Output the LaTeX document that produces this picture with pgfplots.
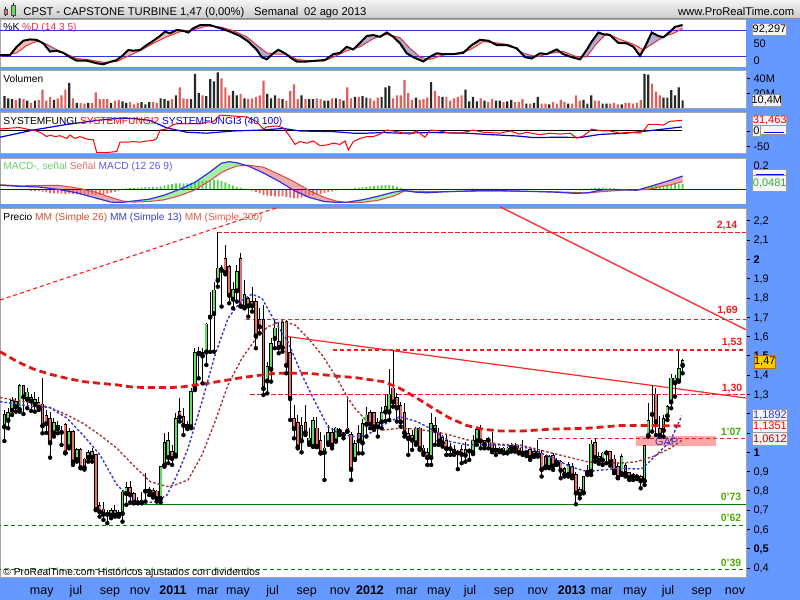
\documentclass[border=0pt]{standalone}
\usepackage{pgfplots}
\pgfplotsset{compat=1.18}
\usepackage{pgfplotstable}
\usepgfplotslibrary{fillbetween}
\usepackage{fontspec}
\setmainfont{Liberation Sans}

\definecolor{prtblue}{RGB}{102,153,255}
\definecolor{cgreen}{RGB}{95,222,95}
\definecolor{cred}{RGB}{232,112,112}
\definecolor{vred}{RGB}{224,96,96}
\definecolor{vblack}{RGB}{40,40,40}
\definecolor{ma200}{RGB}{220,25,25}
\definecolor{ma26}{RGB}{165,55,55}
\definecolor{ma13}{RGB}{55,55,205}
\definecolor{lvlred}{RGB}{240,30,30}
\definecolor{lvlgreen}{RGB}{0,128,0}
\definecolor{lblgreen}{RGB}{80,170,0}
\definecolor{stochK}{RGB}{172,172,212}
\definecolor{stochD}{RGB}{242,188,188}
\definecolor{stochred}{RGB}{230,50,50}
\definecolor{macdgreen}{RGB}{165,238,165}
\definecolor{macdpink}{RGB}{240,172,172}
\definecolor{histgreen}{RGB}{80,210,80}
\definecolor{histred}{RGB}{230,100,100}
\definecolor{macdblue}{RGB}{50,50,220}
\definecolor{macdred}{RGB}{225,70,70}
\definecolor{boxfill}{RGB}{245,245,245}
\definecolor{gold}{RGB}{255,204,0}

% weekly candles: index, open, high, low, close, volume (M), MACD histogram
\pgfplotstableread{
i o h l c v m
0 1.133 1.219 1.058 1.193 16 -0.004
1 1.167 1.228 1.124 1.202 13 -0.006
2 1.219 1.288 1.193 1.267 12 -0.008
3 1.262 1.283 1.210 1.237 11 -0.006
4 1.223 1.354 1.210 1.344 13 -0.004
5 1.344 1.349 1.198 1.288 12 -0.006
6 1.276 1.331 1.228 1.310 10 -0.010
7 1.283 1.300 1.214 1.267 7 -0.014
8 1.250 1.314 1.210 1.271 10 -0.016
9 1.254 1.288 1.219 1.233 11 -0.015
10 1.248 1.383 1.098 1.138 25 -0.020
11 1.190 1.220 1.100 1.150 10 -0.026
12 1.172 1.210 0.972 1.050 15 -0.032
13 1.102 1.176 1.081 1.150 11 -0.035
14 1.136 1.162 1.098 1.124 13 -0.035
15 1.107 1.138 1.038 1.105 17 -0.036
16 1.141 1.150 0.994 0.999 25 -0.040
17 1.029 1.124 1.020 1.107 34 -0.038
18 1.107 1.115 0.934 0.951 13 -0.042
19 0.963 1.020 0.951 1.012 7 -0.044
20 1.012 1.020 0.917 0.922 7 -0.046
21 0.963 0.970 0.910 0.922 6 -0.048
22 0.974 1.012 0.951 0.998 7 -0.046
23 1.003 1.020 0.951 0.974 7 -0.044
24 0.986 0.990 0.700 0.704 21 -0.050
25 0.721 0.744 0.666 0.692 12 -0.048
26 0.704 0.744 0.649 0.680 12 -0.044
27 0.683 0.700 0.632 0.680 12 -0.036
28 0.675 0.709 0.658 0.697 7 -0.028
29 0.697 0.727 0.666 0.675 10 -0.020
30 0.684 0.700 0.666 0.675 11 -0.012
31 0.684 0.804 0.640 0.792 9 0.004
32 0.787 0.848 0.727 0.813 7 0.008
33 0.813 0.853 0.740 0.782 8 0.010
34 0.782 0.796 0.735 0.740 5 0.012
35 0.742 0.770 0.735 0.740 7 0.014
36 0.742 0.796 0.735 0.745 8 0.016
37 0.800 0.891 0.744 0.800 5 0.018
38 0.800 0.822 0.778 0.806 8 0.020
39 0.800 0.813 0.765 0.782 8 0.020
40 0.797 0.804 0.744 0.761 7 0.020
41 0.761 0.925 0.740 0.922 13 0.026
42 0.934 1.098 0.925 1.050 12 0.034
43 0.974 1.107 0.943 1.060 10 0.040
44 1.000 1.038 0.934 0.969 12 0.044
45 0.986 1.202 0.977 1.172 17 0.050
46 1.210 1.283 1.159 1.184 28 0.052
47 1.184 1.231 1.089 1.141 13 0.050
48 1.140 1.160 1.120 1.136 12 0.050
49 1.133 1.331 1.124 1.311 12 0.056
50 1.331 1.539 1.322 1.513 46 0.066
51 1.513 1.547 1.383 1.520 20 0.070
52 1.513 1.539 1.357 1.501 17 0.072
53 1.521 1.668 1.452 1.663 16 0.076
54 1.702 1.830 1.520 1.705 39 0.078
55 1.720 1.881 1.521 1.839 36 0.080
56 1.893 2.140 1.858 1.953 48 0.080
57 1.957 1.970 1.755 1.945 40 0.072
58 2.002 2.074 1.922 1.933 28 0.060
59 1.962 1.970 1.772 1.815 17 0.044
60 1.795 1.884 1.746 1.841 23 0.032
61 1.838 1.970 1.781 1.933 17 0.022
62 2.002 2.031 1.755 1.760 19 0.014
63 1.751 1.893 1.746 1.815 13 0.006
64 1.795 1.807 1.703 1.760 12 -0.004
65 1.781 1.858 1.729 1.760 13 -0.012
66 1.781 1.798 1.539 1.604 15 -0.024
67 1.686 1.746 1.617 1.651 17 -0.034
68 1.686 1.763 1.297 1.331 37 -0.048
69 1.371 1.470 1.305 1.444 19 -0.054
70 1.432 1.591 1.366 1.560 13 -0.058
71 1.591 1.686 1.539 1.642 17 -0.060
72 1.570 1.677 1.513 1.544 13 -0.062
73 1.544 1.686 1.521 1.672 12 -0.060
74 1.677 1.686 1.409 1.452 10 -0.064
75 1.513 1.599 1.167 1.280 23 -0.072
76 1.172 1.245 1.072 1.124 32 -0.078
77 1.150 1.193 1.020 1.029 12 -0.078
78 1.060 1.184 0.999 1.136 17 -0.072
79 1.150 1.245 1.089 1.103 12 -0.066
80 1.050 1.124 1.038 1.072 12 -0.060
81 1.032 1.184 1.029 1.162 12 -0.052
82 1.124 1.184 1.026 1.032 13 -0.046
83 1.060 1.107 0.994 0.998 12 -0.040
84 1.000 1.089 0.856 1.020 10 -0.032
85 1.050 1.141 1.038 1.102 10 -0.024
86 1.102 1.124 1.020 1.038 13 -0.018
87 1.060 1.133 1.055 1.124 13 -0.010
88 1.114 1.124 1.089 1.110 12 -0.004
89 1.093 1.105 1.072 1.096 10 0.004
90 1.124 1.288 1.107 1.110 28 0.006
91 1.089 1.107 0.856 0.912 13 0.004
92 0.965 1.064 0.960 1.043 15 0.010
93 1.093 1.141 0.994 1.060 15 0.014
94 1.050 1.172 0.994 1.148 16 0.018
95 1.146 1.236 1.081 1.191 14 0.022
96 1.202 1.219 1.124 1.146 13 0.026
97 1.202 1.210 1.115 1.133 10 0.030
98 1.150 1.176 1.081 1.133 14 0.032
99 1.159 1.236 1.124 1.202 15 0.034
100 1.210 1.297 1.162 1.233 28 0.036
101 1.210 1.432 1.167 1.300 30 0.036
102 1.331 1.530 1.236 1.262 13 0.032
103 1.280 1.305 1.159 1.231 17 0.024
104 1.242 1.259 1.133 1.159 17 0.014
105 1.202 1.254 1.081 1.103 38 0.004
106 1.095 1.124 0.986 1.072 20 -0.004
107 1.086 1.115 1.012 1.064 11 -0.008
108 1.050 1.133 1.038 1.124 14 -0.008
109 1.124 1.133 1.012 1.020 11 -0.010
110 1.020 1.038 0.986 0.998 12 -0.012
111 0.998 1.020 0.934 0.974 14 -0.008
112 0.974 1.202 0.934 1.146 35 -0.002
113 1.138 1.184 1.038 1.115 23 0.002
114 1.103 1.124 1.038 1.060 16 0.000
115 1.050 1.089 1.029 1.075 15 -0.002
116 1.060 1.089 0.986 1.020 15 -0.004
117 1.022 1.046 0.986 1.020 10 -0.004
118 1.012 1.038 0.986 0.998 13 -0.002
119 1.000 1.012 0.912 0.998 15 -0.002
120 1.012 1.038 0.943 0.991 17 0.000
121 0.986 1.055 0.951 1.012 25 0.004
122 1.008 1.012 0.960 1.008 9 0.006
123 1.000 1.089 0.990 1.060 15 0.006
124 1.060 1.133 1.038 1.115 9 0.006
125 1.124 1.141 1.020 1.060 13 0.006
126 1.041 1.064 1.020 1.060 10 0.006
127 1.072 1.081 1.020 1.064 8 0.006
128 1.046 1.107 1.000 1.012 12 0.006
129 1.012 1.038 0.986 1.020 10 0.004
130 1.008 1.029 1.000 1.020 10 0.000
131 1.020 1.025 0.994 1.000 8 -0.002
132 1.000 1.025 0.994 1.020 9 -0.002
133 1.020 1.046 1.003 1.034 11 0.000
134 1.029 1.046 1.003 1.025 8 0.002
135 1.020 1.038 0.994 1.000 8 0.000
136 1.000 1.064 0.986 0.998 12 0.000
137 1.000 1.012 0.980 1.000 6 0.004
138 1.012 1.020 0.960 0.974 6 0.004
139 0.986 1.015 0.975 1.003 7 0.002
140 0.986 1.064 0.977 1.003 15 0.000
141 0.994 1.012 0.874 0.912 6 -0.002
142 0.977 0.986 0.917 0.925 6 -0.004
143 0.922 0.986 0.917 0.974 5 -0.004
144 0.982 0.994 0.908 0.930 8 -0.002
145 0.955 0.969 0.934 0.943 6 -0.002
146 0.951 0.960 0.865 0.908 11 -0.004
147 0.913 0.925 0.874 0.887 8 -0.004
148 0.887 0.951 0.874 0.934 6 -0.002
149 0.922 0.943 0.865 0.879 6 -0.004
150 0.882 0.899 0.730 0.790 17 -0.008
151 0.804 0.822 0.761 0.784 10 -0.010
152 0.792 0.879 0.787 0.870 11 -0.006
153 0.896 0.934 0.882 0.903 6 0.002
154 0.903 1.064 0.882 1.041 17 0.008
155 1.050 1.072 0.951 0.974 10 0.012
156 0.974 1.000 0.940 0.960 10 0.014
157 0.961 1.000 0.934 0.994 6 0.014
158 0.998 1.012 0.943 1.000 6 0.012
159 1.000 1.003 0.930 0.951 6 0.010
160 0.963 0.986 0.891 0.903 7 0.008
161 0.922 0.951 0.865 0.870 5 0.006
162 0.891 0.990 0.882 0.974 5 0.004
163 0.930 0.943 0.874 0.891 7 0.002
164 0.894 0.899 0.856 0.870 7 0.000
165 0.878 0.891 0.856 0.877 6 -0.002
166 0.875 0.885 0.860 0.874 7 -0.002
167 0.873 0.882 0.813 0.853 11 0.000
168 0.853 1.038 0.830 1.032 46 0.012
169 1.089 1.254 1.081 1.162 45 0.022
170 1.200 1.348 1.107 1.198 33 0.028
171 1.300 1.331 1.089 1.159 22 0.030
172 1.120 1.190 1.080 1.090 17 0.032
173 1.115 1.193 1.081 1.172 14 0.034
174 1.190 1.245 1.167 1.236 14 0.038
175 1.262 1.404 1.228 1.383 24 0.042
176 1.361 1.401 1.288 1.383 17 0.044
177 1.371 1.525 1.366 1.430 28 0.046
178 1.452 1.484 1.409 1.473 10.4 0.048
}\weekly

\pgfplotstableread{
i k
-1.15 23
1.47 23
3.23 42
4.96 56
6.72 59
8.48 58
10.21 50
11.97 31
13.73 33
15.46 28
17.22 18
18.98 10
21.6 10
24.23 4
25.96 1.6
27.72 7
29.48 11.5
31.2 23
32.5 34.6
33.83 33
35.59 34.6
37.35 46
39.08 56
40.84 67
42.15 77
43.46 73
45.22 81
46.96 79
48.27 75
49.58 85
51.34 92
53.96 92
56.59 85
59.21 77
61.84 67
64.02 54
66.23 35
67.54 18
68.85 13
70.58 27
71.89 35
73.65 27
75.41 15
76.72 8
79.34 8
81.97 10
84.15 11.5
86.33 25
88.08 28
89.84 42
91.57 36
93.33 51
95.09 67
96.82 69
98.58 65
100.34 75
102.07 65
103.83 50
105.59 27
107.32 18
109.95 8
111.71 19
113.47 27
115.2 25
117.82 25
120.45 28
122.65 46
124.83 58
127.01 56
129.21 46
131.84 46
134.46 38.5
136.64 18
138.4 15
140.58 27
142.34 25
144.96 36
146.69 25
148.9 18
151.08 13
152.83 35
154.15 54
155.88 75
157.19 71
158.95 69
161.13 51
163.33 50
165.07 42
166.82 21
168.14 42
169.9 75
171.63 67
172.94 64
174.7 77
176.01 88
178 92.3
}\stochK

\pgfplotstableread{
i d
-1.15 20
3.23 28
5.85 45
8.48 55
11.1 48
13.73 35
16.35 25
18.98 15
22.47 11.5
25.96 6
29.48 8
32.1 19
35.59 33
39.08 50
42.6 65
46.09 77
49.58 81
53.1 90
56.59 88
60.08 79
63.6 65
66.23 46
68.85 28
71.47 25
74.1 25
76.72 13
80.21 9
83.7 9
86.33 18
89.84 33
93.33 42
96.82 61
100.34 71
103.83 63
106.46 38.5
109.08 18
111.71 13
115.2 23
118.72 27
122.2 35
125.7 54
129.21 51
132.7 46
136.19 27
139.7 19
143.2 27
146.69 31
150.2 19
152.83 19
155.46 50
158.08 73
161.57 59
165.07 48
167.69 35
170.31 50
172.94 65
175.56 73
178 84
}\stochD

\pgfplotstableread{
i v
-1.15 0.035
4 0.025
9 0.020
14 0.000
19 -0.030
24 -0.075
28 -0.110
31 -0.112
34 -0.100
38 -0.085
42 -0.050
46 0.000
50 0.060
54 0.150
57 0.225
59 0.237
61 0.228
64 0.200
68 0.140
72 0.070
76 -0.010
80 -0.070
84 -0.105
87 -0.112
90 -0.110
94 -0.090
98 -0.060
102 -0.025
105 -0.010
108 -0.025
111 -0.030
115 -0.022
120 -0.016
125 -0.010
130 -0.012
135 -0.015
140 -0.020
145 -0.025
150 -0.035
153 -0.030
157 -0.005
162 -0.003
166 -0.008
169 0.020
172 0.050
175 0.080
178 0.114
}\macdline

\pgfplotstableread{
i v
-1.15 0.040
4 0.030
9 0.032
14 0.035
19 0.012
24 -0.025
28 -0.070
31 -0.100
34 -0.110
38 -0.105
42 -0.090
46 -0.055
50 -0.005
54 0.075
57 0.145
59 0.175
61 0.200
64 0.208
68 0.190
72 0.130
76 0.065
80 -0.010
84 -0.070
87 -0.100
90 -0.115
94 -0.112
98 -0.095
102 -0.060
105 -0.015
108 -0.017
111 -0.020
115 -0.020
120 -0.018
125 -0.016
130 -0.014
135 -0.017
140 -0.018
145 -0.022
150 -0.027
153 -0.032
157 -0.020
162 -0.008
166 -0.006
169 0.000
172 0.020
175 0.040
178 0.066
}\signalline

\pgfplotsset{
  panel/.style={
    scale only axis, width=746bp, xmin=-1.155, xmax=194.64,
    anchor=south west,
    clip bounding box=upper bound,
    axis line style={draw=black!35, line width=0.8bp},
    xtick=\empty,
    ytick pos=right, yticklabel pos=right,
    ytick align=outside,
    major tick length=4bp,
    tick style={black, line width=0.7bp},
    yticklabel style={font=\fontsize{11bp}{12bp}\selectfont, anchor=base west, yshift=-3.9bp},
  },
  cbar/.style={only marks, mark=none},
}

\begin{document}
\begin{tikzpicture}[x=1bp,y=1bp]
% blue frame only around the panels (panels stay on the white page)
\fill[prtblue] (746,0) rectangle (800,582);
\fill[prtblue] (0,0) rectangle (746,23);
\fill[prtblue] (0,392) rectangle (746,396);
\fill[prtblue] (0,442) rectangle (746,447);
\fill[prtblue] (0,488) rectangle (746,492);
\fill[prtblue] (0,530) rectangle (746,533);
\fill[prtblue] (0,581) rectangle (746,582);
\shade[top color=black!4, bottom color=black!20] (0,582) rectangle (800,600);
\draw[black!45, line width=0.8bp] (0,582) -- (800,582);

% ---------- Stochastic ----------
\begin{axis}[panel, at={(0bp,533bp)}, height=48bp, ymin=-4.6, ymax=106.2,
  ytick={0,50}, yticklabels={\raisebox{4bp}{0},50}]
\addplot[draw=none, name path=K] table[x=i, y=k] {\stochK};
\addplot[draw=none, name path=D] table[x=i, y=d] {\stochD};
\addplot[fill=stochK, draw=none] fill between[of=K and D, split,
  every even segment/.style={fill=stochK},
  every odd segment/.style={fill=stochD}];
\addplot[macdblue, line width=0.9bp] coordinates {(-2,80) (196,80)};
\addplot[macdblue, line width=0.9bp] coordinates {(-2,20) (196,20)};
\addplot[stochred, line width=1bp] table[x=i, y=d] {\stochD};
\addplot[black, line width=2bp] table[x=i, y=k] {\stochK};
\end{axis}

% ---------- Volume ----------
\begin{axis}[panel, at={(0bp,492bp)}, height=38bp, ymin=0, ymax=51.4,
  ytick={20,40}, yticklabels={20M,40M}]
\addplot[ybar, bar width=2.2bp, bar shift=0pt, fill=vblack, draw=none, restrict y to domain=0:100]
  table[x=i, y expr={\thisrow{c}>=\thisrow{o} ? \thisrow{v} : -1}] {\weekly};
\addplot[ybar, bar width=2.2bp, bar shift=0pt, fill=vred, draw=none, restrict y to domain=0:100]
  table[x=i, y expr={\thisrow{c}<\thisrow{o} ? \thisrow{v} : -1}] {\weekly};
\end{axis}

% ---------- SYSTEMFUNGI ----------
\begin{axis}[panel, at={(0bp,447bp)}, height=41bp, ymin=-70.5, ymax=60.9,
  ytick={-50,0}, yticklabels={-50,{}}]
\addplot[black, line width=1bp] coordinates {(-2,0) (177.8,0)};
\addplot[blue!85!black, line width=1.2bp] coordinates {
(-1.15,-20) (7.59,3) (16.35,21) (25.09,35) (30.34,41) (33.83,40) (38.21,34) (42.6,10)
(47.85,-4) (53.1,-7) (60.08,0) (67.09,3) (73.2,8) (77.59,0) (86.33,-2) (91.57,-7)
(95.09,-7) (99.45,-5) (103.83,-7) (112.57,-5) (121.3,-7) (126.6,-11) (134.5,-16)
(138.8,-21) (145.8,-20) (151.1,-21) (156.3,-11) (163.3,-7) (168.6,0) (172.9,6) (177.8,13)};
\addplot[red, line width=1bp] coordinates {
(-1.15,6.4) (0.6,8) (2.34,10) (4.1,11) (5.85,6) (7.59,3) (9.34,-4) (11.1,-18) (11.97,-13)
(13.28,-18) (14.59,-15) (16.35,-24) (17.22,-13) (18.53,-24) (19.84,-18) (21.6,-26)
(23.33,-28) (24.23,-69) (26.85,-69) (29.48,-66) (30.34,-36) (32.1,-36) (33.83,-34)
(35.59,-36) (37.35,-32) (39.08,-30) (39.97,-24) (40.84,3) (42.6,6) (44.33,21) (46.09,24)
(47.85,23) (49.58,24) (51.34,23) (53.1,28) (54.83,30) (56.59,51) (60.08,48) (63.6,45)
(66.23,30) (67.95,6) (68.85,13) (71.47,16) (73.2,10) (74.96,-18) (76.27,-43) (77.59,-34)
(79.34,-39) (81.07,-32) (82.83,-47) (84.59,-45) (86.33,-39) (88.08,-43) (89.4,-32)
(90.26,-61) (91.57,-34) (93.33,-24) (95.09,-18) (96.82,-18) (98.58,-10) (100.34,3)
(102.07,0) (103.83,-4) (106.46,-10) (108.2,0) (110.39,-20) (111.71,3) (114.33,0)
(116.96,-7) (119.58,-7) (123.08,3) (125.7,-4) (130.08,-7) (132.7,0) (135.3,-10)
(137.08,-4) (140.58,-12) (143.2,-7) (145.8,-10) (148.5,-7) (150.2,-23) (151.96,-16)
(154.15,6) (156.8,0) (159.0,0) (161.6,-7) (164.2,-4) (166.8,-7) (168.1,6) (169.0,21)
(171.2,21) (172.9,19) (174.7,31) (177.8,34)};
\end{axis}

% ---------- MACD ----------
\begin{axis}[panel, at={(0bp,396bp)}, height=46bp, ymin=-0.126, ymax=0.269,
  ytick={0,0.2}, yticklabels={{},{0,2}}]
\addplot[ybar, bar width=1.8bp, bar shift=0pt, fill=histgreen, draw=none, restrict y to domain=0.0005:1]
  table[x=i, y=m] {\weekly};
\addplot[ybar, bar width=1.8bp, bar shift=0pt, fill=histred, draw=none, restrict y to domain=-1:-0.0005]
  table[x=i, y=m] {\weekly};
\addplot[draw=none, name path=M] table[x=i, y=v] {\macdline};
\addplot[draw=none, name path=S] table[x=i, y=v] {\signalline};
\addplot[fill=macdpink, draw=none] fill between[of=M and S, split,
  every even segment/.style={fill=macdpink},
  every odd segment/.style={fill=macdgreen}];
\addplot[blue, line width=0.9bp] coordinates {(-2,0) (196,0)};
\addplot[macdred, line width=1bp] table[x=i, y=v] {\signalline};
\addplot[macdblue, line width=1.2bp] table[x=i, y=v] {\macdline};
\end{axis}

% ---------- Price ----------
\begin{axis}[panel, at={(0bp,23bp)}, height=369bp, ymin=0.353, ymax=2.266,
  ytick={0.4,0.5,0.6,0.7,0.8,0.9,1,1.1,1.2,1.3,1.4,1.5,1.6,1.7,1.8,1.9,2,2.1,2.2},
  yticklabels={{0,4},{\textbf{0,5}},{0,6},{0,7},{0,8},{0,9},{\textbf{1}},{},{},{1,3},{1,4},{\textbf{1,5}},{1,6},{1,7},{1,8},{1,9},{\textbf{2}},{2,1},{2,2}},
  xtick={9.79,18.79,27.72,35.59,44.25,53.36,61.31,70.42,79.34,88.08,95.96,105.59,114.07,122.2,131.13,139.97,148.9,156.77,165.51,174.17,183.02,191.76},
  xticklabels={may,jul,sep,nov,\textbf{2011},mar,may,jul,sep,nov,\textbf{2012},mar,may,jul,sep,nov,\textbf{2013},mar,may,jul,sep,nov},
  x tick style={draw=none},
  xticklabel style={font=\fontsize{12.5bp}{14bp}\selectfont, anchor=base, yshift=-17.5bp},
]
% support / resistance levels
\addplot[lvlred, line width=1.1bp, dash pattern=on 4.5bp off 2.5bp] coordinates {(55.8,2.14) (196,2.14)};
\addplot[lvlred, line width=1.1bp, dash pattern=on 4.5bp off 2.5bp] coordinates {(63.4,1.69) (196,1.69)};
\addplot[lvlred, line width=1.1bp, dash pattern=on 4.5bp off 2.5bp] coordinates {(86.2,1.53) (196,1.53)};
\addplot[lvlred, line width=1.1bp, dash pattern=on 4.5bp off 2.5bp] coordinates {(64.5,1.30) (196,1.30)};
\addplot[lvlgreen, line width=1.3bp] coordinates {(30.8,0.73) (196,0.73)};
\addplot[lvlgreen, line width=1.1bp, dash pattern=on 4.5bp off 2.5bp] coordinates {(-2,0.62) (196,0.62)};
\addplot[lvlgreen, line width=1.1bp, dash pattern=on 4.5bp off 2.5bp] coordinates {(-2,0.39) (196,0.39)};
% gap zone
\addplot[fill=red!35, draw=none] coordinates {(165.8,1.032) (186.8,1.032) (186.8,1.084) (165.8,1.084)} -- cycle;
\addplot[lvlred, line width=1.1bp, dash pattern=on 4.5bp off 2.5bp] coordinates {(140.0,1.07) (196,1.07)};
% trend lines
\addplot[red!90, line width=1.1bp, dash pattern=on 4bp off 3bp] coordinates {(-1.15,1.789) (75,2.29)};
\addplot[red!85, line width=1.2bp] coordinates {(128,2.293) (195,1.631)};
\addplot[red!85, line width=1.2bp] coordinates {(74.43,1.599) (195,1.280)};
% candles: wicks, outlines, bodies
\addplot[cbar, error bars/.cd, y dir=plus, y explicit, error mark=none,
  error bar style={black, line width=0.9bp}]
  table[x=i, y=l, y error plus expr={\thisrow{h}-\thisrow{l}}] {\weekly};
\addplot[cbar, error bars/.cd, y dir=plus, y explicit, error mark=none,
  error bar style={black, line width=3.6bp}]
  table[x=i, y expr={min(\thisrow{o},\thisrow{c})-0.004}, y error plus expr={abs(\thisrow{c}-\thisrow{o})+0.008}] {\weekly};
\addplot[cbar, restrict y to domain=0:5, error bars/.cd, y dir=plus, y explicit, error mark=none,
  error bar style={cgreen, line width=1.8bp}]
  table[x=i, y expr={\thisrow{c}>=\thisrow{o} ? \thisrow{o} : -9}, y error plus expr={\thisrow{c}-\thisrow{o}}] {\weekly};
\addplot[cbar, restrict y to domain=0:5, error bars/.cd, y dir=plus, y explicit, error mark=none,
  error bar style={cred, line width=1.8bp}]
  table[x=i, y expr={\thisrow{c}<\thisrow{o} ? \thisrow{c} : -9}, y error plus expr={\thisrow{o}-\thisrow{c}}] {\weekly};
% moving averages
\addplot[ma200, line width=2.8bp, dash pattern=on 7bp off 4bp] coordinates {
(-1.15,1.521) (3.31,1.47) (7.51,1.432) (11.97,1.404) (16.43,1.383) (20.63,1.366) (25.09,1.357)
(29.55,1.349) (33.75,1.337) (38.21,1.335) (42.68,1.335) (46.09,1.337) (53.44,1.357) (62.36,1.387)
(71.02,1.409) (79.69,1.409) (88.61,1.392) (92.02,1.387) (99.4,1.366) (103.8,1.331) (108.3,1.28)
(112.5,1.228) (116.96,1.176) (121.4,1.138) (125.6,1.119) (130.1,1.11) (136.0,1.11) (144.0,1.12)
(152.9,1.124) (161.6,1.138) (170.2,1.138) (177.8,1.136)};
\addplot[ma26, line width=1.4bp, dash pattern=on 2.5bp off 2bp] coordinates {
(-1.15,1.283) (7.51,1.254) (11.97,1.231) (16.43,1.193) (20.63,1.15) (25.09,1.089) (29.55,1.02)
(33.75,0.934) (38.21,0.848) (42.68,0.822) (44.78,0.83) (48.19,0.856) (51.86,0.986) (55.28,1.159)
(58.69,1.349) (62.36,1.487) (65.77,1.582) (69.19,1.651) (72.86,1.68) (76.27,1.66) (79.69,1.591)
(83.36,1.504) (86.77,1.4) (90.18,1.28) (92.02,1.228) (95.17,1.159) (99.38,1.115) (103.8,1.124)
(108.3,1.12) (112.5,1.107) (116.96,1.089) (121.4,1.064) (125.6,1.055) (130.08,1.041) (135.3,1.038)
(144.0,0.994) (152.9,0.951) (157.1,0.943) (161.6,0.943) (166.0,0.951) (170.2,0.977) (174.7,1.02)
(177.8,1.061)};
\addplot[ma13, line width=1.4bp, dash pattern=on 2.5bp off 2bp] coordinates {
(-1.15,1.262) (7.51,1.236) (11.97,1.231) (16.43,1.176) (20.63,1.089) (25.09,0.986) (29.55,0.83)
(33.75,0.752) (36.4,0.735) (39.9,0.745) (42.68,0.778) (44.78,0.86) (46.09,0.917) (48.19,1.02)
(51.86,1.262) (55.28,1.504) (58.69,1.694) (62.36,1.789) (65.0,1.819) (67.6,1.798) (71.02,1.677)
(74.4,1.573) (78.1,1.40) (81.5,1.262) (84.9,1.133) (88.61,1.089) (92.02,1.081) (95.17,1.089)
(99.38,1.141) (103.8,1.184) (108.3,1.159) (112.5,1.115) (116.96,1.055) (121.4,1.038) (125.6,1.038)
(130.08,1.038) (138.0,1.02) (144.0,0.969) (148.5,0.925) (152.9,0.9) (157.1,0.908) (161.6,0.917)
(166.0,0.913) (167.6,0.917) (170.2,0.969) (174.7,1.055) (177.8,1.189)};
\end{axis}

% ---------- texts ----------
\tikzset{lbl/.style={anchor=base west, inner sep=0, font=\fontsize{10.2bp}{12bp}\selectfont}}
% title bar
\draw[black] (5.5,584) -- (5.5,593);
\filldraw[fill=cred, draw=black!70, line width=0.5bp] (4,585.5) rectangle (7.5,590.5);
\draw[black] (13.2,583) -- (13.2,597);
\filldraw[fill=cgreen, draw=black!70, line width=0.5bp] (11.5,584.5) rectangle (15,595);
\node[anchor=base west, inner sep=0, font=\fontsize{11.2bp}{13bp}\selectfont] at (23.3,584.3) {CPST - CAPSTONE TURBINE};
\node[anchor=base west, inner sep=0, font=\fontsize{11.2bp}{13bp}\selectfont] at (180,584.3) {1,47 (0,00\%)};
\node[anchor=base west, inner sep=0, font=\fontsize{11.2bp}{13bp}\selectfont] at (254,584.3) {Semanal};
\node[anchor=base west, inner sep=0, font=\fontsize{11.2bp}{13bp}\selectfont] at (304,584.3) {02 ago 2013};
\node[anchor=base east, inner sep=0, font=\fontsize{11.2bp}{13bp}\selectfont] at (794.3,584.3) {www.ProRealTime.com};
% panel legends
\node[lbl] at (3.3,569) {\%K \textcolor{stochred}{\%D (14 3 5)}};
\node[lbl] at (3.3,517.5) {Volumen};
\node[lbl] at (3.3,475.7) {SYSTEMFUNGI \textcolor{red}{SYSTEMFUNGI2} \textcolor{blue!85!black}{SYSTEMFUNGI3 (40 100)}};
\node[lbl] at (3.3,430) {\textcolor[RGB]{110,205,110}{MACD-, señal} \textcolor[RGB]{230,110,110}{Señal} \textcolor[RGB]{90,90,220}{MACD (12 26 9)}};
\node[lbl] at (3.3,379) {Precio \textcolor[RGB]{205,80,55}{MM (Simple 26)} \textcolor[RGB]{60,60,200}{MM (Simple 13)} \textcolor[RGB]{228,95,70}{MM (Simple 200)}};
\node[lbl] at (3.3,24.5) {© ProRealTime.com  Históricos ajustados con dividendos};
% level labels
\tikzset{lvl/.style={inner sep=0, font=\bfseries\fontsize{10.5bp}{12bp}\selectfont}}
\node[lvl, text=lvlred] at (727,374.3) {2,14};
\node[lvl, text=lvlred] at (727.5,289.3) {1,69};
\node[lvl, text=lvlred] at (732,257.7) {1,53};
\node[lvl, text=lvlred] at (732,211.7) {1,30};
\node[lvl, text=lblgreen] at (731,168.3) {1'07};
\node[lvl, text=lblgreen] at (731,103.3) {0'73};
\node[lvl, text=lblgreen] at (731,81.7) {0'62};
\node[lvl, text=lblgreen] at (731,36.7) {0'39};
\node[inner sep=0, text=ma13, font=\fontsize{11bp}{12bp}\selectfont] at (666.7,158.3) {GAP};
% value boxes on the right
\tikzset{vbox/.style={fill=boxfill, draw=black!40, line width=0.6bp},
         vtxt/.style={inner sep=0, font=\fontsize{11bp}{12bp}\selectfont}}
\filldraw[vbox] (752.3,565) rectangle (786.7,576.7);
\node[vtxt] at (769.5,570.8) {92,297};
\filldraw[vbox] (752,494) rectangle (781.7,505.7);
\node[vtxt] at (766.8,499.8) {10,4M};
\filldraw[vbox] (752.7,465.7) rectangle (786.7,474.3);
\draw[blue, line width=0.8bp] (764,467.5) -- (784,467.5);
\filldraw[vbox] (752.7,474.3) rectangle (786.7,485);
\node[vtxt, text=red] at (769.7,479.7) {31,463};
\filldraw[vbox] (752.7,463.3) rectangle (760,474.3);
\node[vtxt] at (756.3,468.8) {0};
\filldraw[vbox] (752.7,424.3) rectangle (786.7,431);
\draw[blue, line width=0.8bp] (756,426) -- (784,426);
\filldraw[vbox] (752.7,408.3) rectangle (786.7,424.3);
\node[vtxt, text=histgreen!80!black] at (769.7,416.3) {0,0481};
\filldraw[fill=gold, draw=orange!80!black, line width=0.6bp] (754,231.7) rectangle (775.7,245);
\node[vtxt] at (764.8,238.3) {1,47};
\filldraw[vbox] (752.7,179.3) rectangle (787.3,191);
\node[vtxt, text=macdblue] at (770,185.1) {1,1892};
\filldraw[vbox] (752.7,167.3) rectangle (787.3,179.3);
\node[vtxt, text=red] at (770,173.3) {1,1351};
\filldraw[vbox] (752.7,155) rectangle (787.3,167.3);
\node[vtxt, text=red!70!black] at (770,161.1) {1,0612};
\pgfresetboundingbox
\useasboundingbox (0,0) rectangle (800,600);
\end{tikzpicture}
\end{document}
